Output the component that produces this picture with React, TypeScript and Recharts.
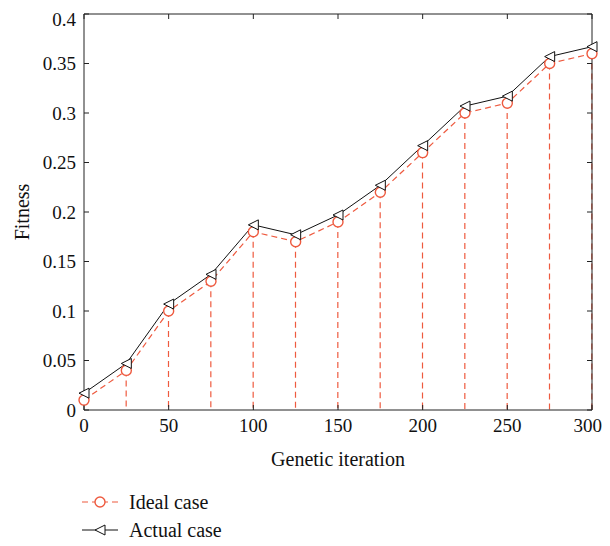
import { ComposedChart, Line, Bar, XAxis, YAxis, Legend } from 'recharts'

const iterations = [0, 25, 50, 75, 100, 125, 150, 175, 200, 225, 250, 275, 300]
const idealCase = [0.01, 0.04, 0.1, 0.13, 0.18, 0.17, 0.19, 0.22, 0.26, 0.3, 0.31, 0.35, 0.36]
const actualCase = [0.017, 0.047, 0.107, 0.137, 0.187, 0.177, 0.197, 0.227, 0.267, 0.307, 0.317, 0.357, 0.367]
const xTicks = [0, 50, 100, 150, 200, 250, 300]
const yTicks = [0, 0.05, 0.1, 0.15, 0.2, 0.25, 0.3, 0.35, 0.4]

const RED = '#ee5a3f'
const FONT = '"Liberation Serif", "DejaVu Serif", serif'

const data = iterations.map((x, i) => ({ x, ideal: idealCase[i], actual: actualCase[i] }))

const Circle = (props: any) => {
  const { cx, cy } = props
  if (cx == null || cy == null) return <g />
  return <circle cx={cx} cy={cy} r={5} fill="white" stroke={RED} strokeWidth={1.4} />
}

const Triangle = (props: any) => {
  const { cx, cy } = props
  if (cx == null || cy == null) return <g />
  return (
    <polygon
      points={`${cx - 5},${cy} ${cx + 5},${cy - 5} ${cx + 5},${cy + 5}`}
      fill="white"
      stroke="#111"
      strokeWidth={1}
    />
  )
}

// dashed drop line from the point down to the x axis
const Stem = (props: any) => {
  const { x, y, width, height } = props
  if (x == null || !height) return <g />
  const cx = x + width / 2
  return <line x1={cx} y1={y} x2={cx} y2={y + height} stroke={RED} strokeWidth={1.2} strokeDasharray="6 4" />
}

const LegendBox = () => (
  <div style={{ height: 68, paddingLeft: 74, paddingTop: 18, fontFamily: FONT, fontSize: 20, color: '#111', boxSizing: 'border-box' }}>
    <div style={{ display: 'flex', alignItems: 'center', height: 28 }}>
      <svg width={36} height={14}>
        <line x1={0} y1={7} x2={36} y2={7} stroke={RED} strokeWidth={1.2} strokeDasharray="6 4" />
        <circle cx={18} cy={7} r={5} fill="white" stroke={RED} strokeWidth={1.4} />
      </svg>
      <span style={{ marginLeft: 11 }}>Ideal case</span>
    </div>
    <div style={{ display: 'flex', alignItems: 'center', height: 28 }}>
      <svg width={36} height={14}>
        <line x1={0} y1={7} x2={36} y2={7} stroke="#111" strokeWidth={1} />
        <polygon points="13,7 23,2 23,12" fill="white" stroke="#111" strokeWidth={1} />
      </svg>
      <span style={{ marginLeft: 11 }}>Actual case</span>
    </div>
  </div>
)

export default function App() {
  const tickStyle = { fontSize: 19, fill: '#111', fontFamily: FONT }
  const labelStyle = { fontSize: 20, fill: '#111', fontFamily: FONT }
  return (
    <ComposedChart width={594} height={530} data={data} margin={{ top: 5, right: 9, bottom: 0, left: 0 }}>
      <XAxis
        dataKey="x"
        type="number"
        domain={[0, 300]}
        ticks={xTicks}
        height={60}
        tickSize={-5}
        tickMargin={14}
        tick={tickStyle}
        stroke="#222"
        label={{ value: 'Genetic iteration', position: 'insideBottom', offset: 4, style: labelStyle }}
      />
      <XAxis
        xAxisId="top"
        dataKey="x"
        orientation="top"
        type="number"
        domain={[0, 300]}
        ticks={xTicks}
        height={1}
        tickSize={-5}
        tick={() => <g />}
        stroke="#222"
      />
      <YAxis
        type="number"
        domain={[0, 0.4]}
        ticks={yTicks}
        width={76}
        tickSize={-5}
        tickMargin={13}
        tick={tickStyle}
        stroke="#222"
        label={{ value: 'Fitness', angle: -90, position: 'insideLeft', offset: 14, style: { ...labelStyle, textAnchor: 'middle' } }}
      />
      <YAxis
        yAxisId="right"
        orientation="right"
        type="number"
        domain={[0, 0.4]}
        ticks={yTicks}
        width={1}
        tickSize={-5}
        tick={() => <g />}
        stroke="#222"
      />
      <Bar dataKey="ideal" barSize={2} shape={<Stem />} isAnimationActive={false} legendType="none" />
      <Line
        dataKey="ideal"
        name="Ideal case"
        stroke={RED}
        strokeWidth={1.2}
        strokeDasharray="6 4"
        dot={<Circle />}
        activeDot={false}
        isAnimationActive={false}
      />
      <Line
        dataKey="actual"
        name="Actual case"
        stroke="#111"
        strokeWidth={1}
        dot={<Triangle />}
        activeDot={false}
        isAnimationActive={false}
      />
      {/* invisible series so the top and right frame axes get drawn */}
      <Line
        xAxisId="top"
        yAxisId="right"
        dataKey="actual"
        stroke="none"
        dot={false}
        activeDot={false}
        legendType="none"
        isAnimationActive={false}
      />
      <Legend verticalAlign="bottom" align="left" layout="horizontal" content={<LegendBox />} />
    </ComposedChart>
  )
}
